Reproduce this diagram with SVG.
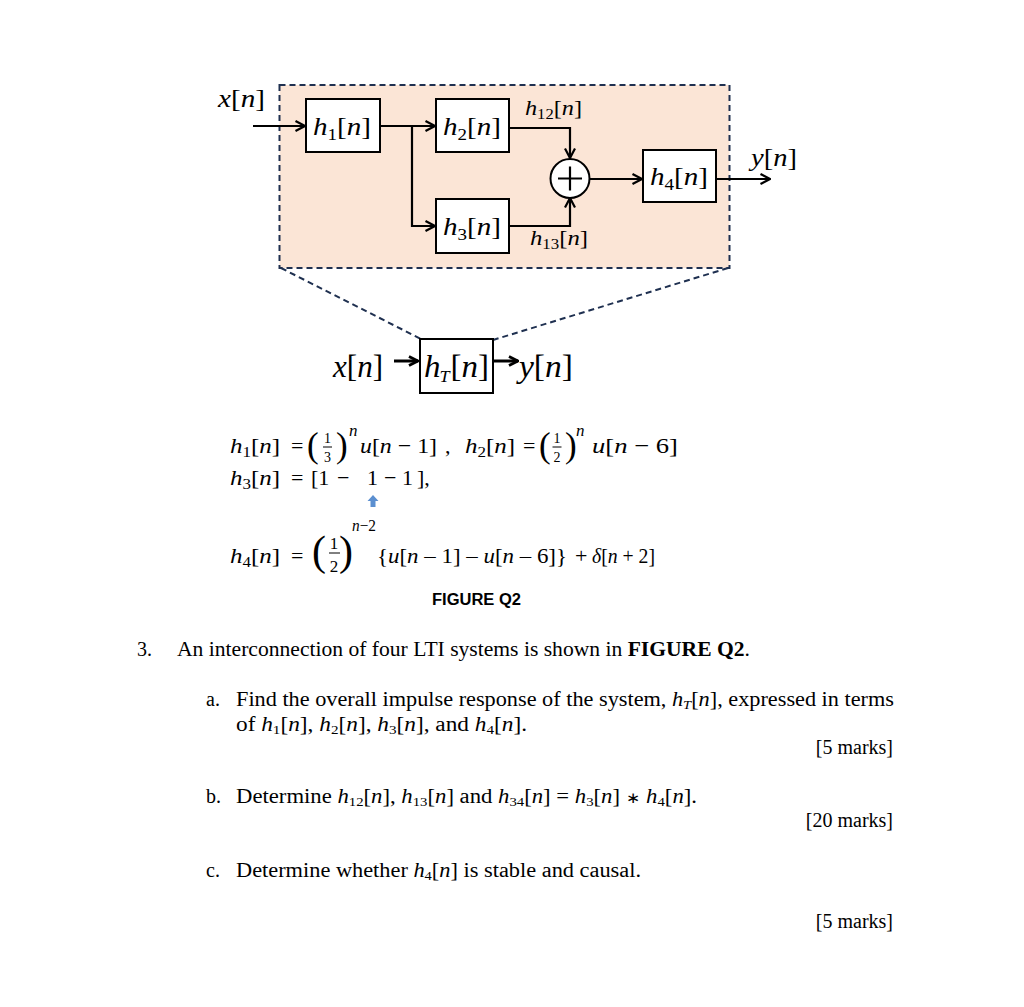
<svg xmlns="http://www.w3.org/2000/svg" width="1024" height="1007" viewBox="0 0 1024 1007">
<style>
.m{font-family:"Liberation Serif",serif;fill:#000}
.i{font-style:italic}
.t{font-family:"Liberation Serif",serif;fill:#000}
.body{font-family:"Liberation Serif",serif;font-size:20px;fill:#000}
.box{fill:#fff;stroke:#000;stroke-width:2}
.ln{fill:none;stroke:#000;stroke-width:2.2}
.lnb{fill:none;stroke:#000;stroke-width:3}
.dash{fill:none;stroke:#1f3050;stroke-width:2;stroke-dasharray:6 4}
</style>
<defs>
<marker id="ah" viewBox="0 0 12 12" refX="11" refY="6" markerWidth="12" markerHeight="12" markerUnits="userSpaceOnUse" orient="auto">
<path d="M1.5,1 L11,6 L1.5,11" fill="none" stroke="#000" stroke-width="2.2"/>
</marker>
<marker id="ahb" viewBox="0 0 12 12" refX="11" refY="6" markerWidth="12" markerHeight="12" markerUnits="userSpaceOnUse" orient="auto">
<path d="M2,1.5 L11,6 L2,10.5" fill="none" stroke="#000" stroke-width="2.8"/>
</marker>
</defs>
<rect width="1024" height="1007" fill="#fff"/>

<g id="container">
<rect x="279.5" y="85" width="450" height="183" class="dash" style="fill:#fbe5d6"/>
<line x1="281" y1="268" x2="421" y2="339" class="dash"/>
<line x1="728" y1="268" x2="493" y2="340" class="dash"/>
</g>

<g id="connectors">
<path class="ln" d="M253,126 H305" marker-end="url(#ah)"/>
<path class="ln" d="M380,126 H435" marker-end="url(#ah)"/>
<path class="ln" d="M412,126 V226 H435" marker-end="url(#ah)"/>
<path class="ln" d="M509,128 H570 V158" marker-end="url(#ah)"/>
<path class="ln" d="M509,226 H570 V198" marker-end="url(#ah)"/>
<path class="ln" d="M590,179 H642" marker-end="url(#ah)"/>
<path class="ln" d="M716,179 H770" marker-end="url(#ah)"/>
<path class="lnb" d="M394,361 H418" marker-end="url(#ahb)"/>
<path class="lnb" d="M493,361 H518" marker-end="url(#ahb)"/>
</g>

<g id="x_in">
<text class="m i" x="218" y="107" font-size="26" textLength="47" lengthAdjust="spacingAndGlyphs">x<tspan font-style="normal">[</tspan>n<tspan font-style="normal">]</tspan></text>
</g>
<g id="h1">
<rect class="box" x="306" y="99" width="74" height="53"/>
<text class="m" x="313" y="135" font-size="26" textLength="58" lengthAdjust="spacingAndGlyphs"><tspan class="i">h</tspan><tspan font-size="17" dy="5">1</tspan><tspan dy="-5">[</tspan><tspan class="i">n</tspan>]</text>
</g>
<g id="h2">
<rect class="box" x="436" y="99" width="73" height="53"/>
<text class="m" x="443" y="135" font-size="26" textLength="58" lengthAdjust="spacingAndGlyphs"><tspan class="i">h</tspan><tspan font-size="17" dy="5">2</tspan><tspan dy="-5">[</tspan><tspan class="i">n</tspan>]</text>
</g>
<g id="h3">
<rect class="box" x="436" y="199" width="73" height="54"/>
<text class="m" x="443" y="235" font-size="26" textLength="58" lengthAdjust="spacingAndGlyphs"><tspan class="i">h</tspan><tspan font-size="17" dy="5">3</tspan><tspan dy="-5">[</tspan><tspan class="i">n</tspan>]</text>
</g>
<g id="sum">
<circle cx="570" cy="178.5" r="19.5" fill="#fff" stroke="#000" stroke-width="2"/>
<path d="M558,178.5 H582 M570,166.5 V190.5" stroke="#000" stroke-width="2.2"/>
</g>
<g id="h4">
<rect class="box" x="643" y="150" width="73" height="52"/>
<text class="m" x="650" y="185" font-size="26" textLength="58" lengthAdjust="spacingAndGlyphs"><tspan class="i">h</tspan><tspan font-size="17" dy="5">4</tspan><tspan dy="-5">[</tspan><tspan class="i">n</tspan>]</text>
</g>
<g id="labels">
<text class="m" x="525" y="115" font-size="22" textLength="57" lengthAdjust="spacingAndGlyphs"><tspan class="i">h</tspan><tspan font-size="15" dy="4">12</tspan><tspan dy="-4">[</tspan><tspan class="i">n</tspan>]</text>
<text class="m" x="530" y="245" font-size="22" textLength="58" lengthAdjust="spacingAndGlyphs"><tspan class="i">h</tspan><tspan font-size="15" dy="4">13</tspan><tspan dy="-4">[</tspan><tspan class="i">n</tspan>]</text>
<text class="m i" x="751" y="166" font-size="26" textLength="46" lengthAdjust="spacingAndGlyphs">y<tspan font-style="normal">[</tspan>n<tspan font-style="normal">]</tspan></text>
</g>

<g id="hT">
<rect class="box" x="420" y="339" width="73" height="54"/>
<text class="t" x="424" y="377" font-size="31" textLength="65" lengthAdjust="spacingAndGlyphs"><tspan class="i">h</tspan><tspan class="i" font-size="17" dx="-1" dy="5">T</tspan><tspan dx="1" dy="-5">[</tspan><tspan class="i">n</tspan>]</text>
</g>
<g id="io_T">
<text class="t" x="333" y="377" font-size="31" textLength="50" lengthAdjust="spacingAndGlyphs"><tspan class="i">x</tspan>[<tspan class="i">n</tspan>]</text>
<text class="t" x="519" y="377" font-size="31" textLength="54" lengthAdjust="spacingAndGlyphs"><tspan class="i">y</tspan>[<tspan class="i">n</tspan>]</text>
</g>

<g id="equations">
<!-- line 1 -->
<text class="m" x="230" y="453" font-size="22" textLength="50" lengthAdjust="spacingAndGlyphs"><tspan class="i">h</tspan><tspan font-size="15" dy="4">1</tspan><tspan dy="-4">[</tspan><tspan class="i">n</tspan>]</text>
<text class="m" x="291" y="453" font-size="22">=</text>
<text class="m" x="307" y="457" font-size="35">(</text>
<text class="m" x="327.5" y="443" font-size="14" text-anchor="middle">1</text>
<line x1="323" y1="447" x2="332" y2="447" stroke="#000" stroke-width="1"/>
<text class="m" x="327.5" y="462" font-size="14" text-anchor="middle">3</text>
<text class="m" x="336" y="457" font-size="35">)</text>
<text class="m i" x="349" y="436" font-size="17">n</text>
<text class="m" x="360" y="453" font-size="22" textLength="77" lengthAdjust="spacingAndGlyphs"><tspan class="i">u</tspan>[<tspan class="i">n</tspan> − 1]</text>
<text class="m" x="445" y="453" font-size="22">,</text>
<text class="m" x="465" y="453" font-size="22" textLength="50" lengthAdjust="spacingAndGlyphs"><tspan class="i">h</tspan><tspan font-size="15" dy="4">2</tspan><tspan dy="-4">[</tspan><tspan class="i">n</tspan>]</text>
<text class="m" x="523" y="453" font-size="22">=</text>
<text class="m" x="539" y="457" font-size="35">(</text>
<text class="m" x="557" y="443" font-size="14" text-anchor="middle">1</text>
<line x1="552.5" y1="447" x2="561.5" y2="447" stroke="#000" stroke-width="1"/>
<text class="m" x="557" y="462" font-size="14" text-anchor="middle">2</text>
<text class="m" x="565" y="457" font-size="35">)</text>
<text class="m i" x="576" y="436" font-size="17">n</text>
<text class="m" x="592" y="453" font-size="22" textLength="86" lengthAdjust="spacingAndGlyphs"><tspan class="i">u</tspan>[<tspan class="i">n</tspan> − 6]</text>
<!-- line 2 -->
<text class="m" x="230" y="485" font-size="22" textLength="50" lengthAdjust="spacingAndGlyphs"><tspan class="i">h</tspan><tspan font-size="15" dy="4">3</tspan><tspan dy="-4">[</tspan><tspan class="i">n</tspan>]</text>
<text class="m" x="291" y="485" font-size="22">=</text>
<text class="m" x="311" y="485" font-size="22">[1</text>
<text class="m" x="337" y="485" font-size="22">−</text>
<text class="m" x="367" y="485" font-size="22">1</text>
<text class="m" x="384" y="485" font-size="22">− 1</text>
<text class="m" x="417" y="485" font-size="22">],</text>
<polygon points="373,495 378.5,501 375.5,501 375.5,507 370.5,507 370.5,501 367.5,501" fill="#5b8fd0"/>
<!-- line 3 -->
<text class="m" x="230" y="563" font-size="22" textLength="50" lengthAdjust="spacingAndGlyphs"><tspan class="i">h</tspan><tspan font-size="15" dy="4">4</tspan><tspan dy="-4">[</tspan><tspan class="i">n</tspan>]</text>
<text class="m" x="291" y="563" font-size="22">=</text>
<text class="m" x="312" y="565" font-size="42">(</text>
<text class="m" x="334" y="549" font-size="17" text-anchor="middle">1</text>
<line x1="329" y1="553" x2="340" y2="553" stroke="#000" stroke-width="1"/>
<text class="m" x="334" y="572" font-size="17" text-anchor="middle">2</text>
<text class="m" x="339" y="565" font-size="42">)</text>
<text class="m i" x="352" y="531" font-size="16" textLength="24" lengthAdjust="spacingAndGlyphs">n<tspan font-style="normal">−2</tspan></text>
<text class="t" x="377" y="563" font-size="21" textLength="190" lengthAdjust="spacingAndGlyphs">{<tspan class="i">u</tspan>[<tspan class="i">n</tspan> – 1] – <tspan class="i">u</tspan>[<tspan class="i">n</tspan> – 6]}</text>
<text class="m" x="575" y="563" font-size="22">+</text>
<text class="m" x="592" y="563" font-size="22" textLength="63" lengthAdjust="spacingAndGlyphs"><tspan class="i">δ</tspan>[<tspan class="i">n</tspan> + 2]</text>
</g>

<g id="caption">
<text x="476.5" y="605" font-family="Liberation Sans, sans-serif" font-weight="bold" font-size="16" text-anchor="middle" textLength="89" lengthAdjust="spacingAndGlyphs">FIGURE Q2</text>
</g>

<g id="question">
<text class="body" x="137" y="656">3.</text>
<text class="body" x="177" y="656" textLength="573" lengthAdjust="spacingAndGlyphs">An interconnection of four LTI systems is shown in <tspan font-weight="bold">FIGURE Q2</tspan>.</text>
<text class="body" x="206" y="706">a.</text>
<text class="body" x="236" y="706" textLength="658" lengthAdjust="spacingAndGlyphs">Find the overall impulse response of the system, <tspan class="i">h</tspan><tspan class="i" font-size="13" dy="3">T</tspan><tspan dy="-3">[</tspan><tspan class="i">n</tspan>], expressed in terms</text>
<text class="body" x="236" y="731" textLength="291" lengthAdjust="spacingAndGlyphs">of <tspan class="i">h</tspan><tspan font-size="13" dy="3">1</tspan><tspan dy="-3">[</tspan><tspan class="i">n</tspan>], <tspan class="i">h</tspan><tspan font-size="13" dy="3">2</tspan><tspan dy="-3">[</tspan><tspan class="i">n</tspan>], <tspan class="i">h</tspan><tspan font-size="13" dy="3">3</tspan><tspan dy="-3">[</tspan><tspan class="i">n</tspan>],  and  <tspan class="i">h</tspan><tspan font-size="13" dy="3">4</tspan><tspan dy="-3">[</tspan><tspan class="i">n</tspan>].</text>
<text class="body" x="893" y="754" text-anchor="end">[5 marks]</text>
<text class="body" x="206" y="803">b.</text>
<text class="body" x="236" y="803" textLength="461" lengthAdjust="spacingAndGlyphs">Determine <tspan class="i">h</tspan><tspan font-size="13" dy="3">12</tspan><tspan dy="-3">[</tspan><tspan class="i">n</tspan>], <tspan class="i">h</tspan><tspan font-size="13" dy="3">13</tspan><tspan dy="-3">[</tspan><tspan class="i">n</tspan>] and <tspan class="i">h</tspan><tspan font-size="13" dy="3">34</tspan><tspan dy="-3">[</tspan><tspan class="i">n</tspan>] =  <tspan class="i">h</tspan><tspan font-size="13" dy="3">3</tspan><tspan dy="-3">[</tspan><tspan class="i">n</tspan>] <tspan font-size="15">∗</tspan> <tspan class="i">h</tspan><tspan font-size="13" dy="3">4</tspan><tspan dy="-3">[</tspan><tspan class="i">n</tspan>].</text>
<text class="body" x="893" y="827" text-anchor="end">[20 marks]</text>
<text class="body" x="206" y="877">c.</text>
<text class="body" x="236" y="877" textLength="405" lengthAdjust="spacingAndGlyphs">Determine whether <tspan class="i">h</tspan><tspan font-size="13" dy="3">4</tspan><tspan dy="-3">[</tspan><tspan class="i">n</tspan>] is stable and causal.</text>
<text class="body" x="893" y="928" text-anchor="end">[5 marks]</text>
</g>
</svg>
